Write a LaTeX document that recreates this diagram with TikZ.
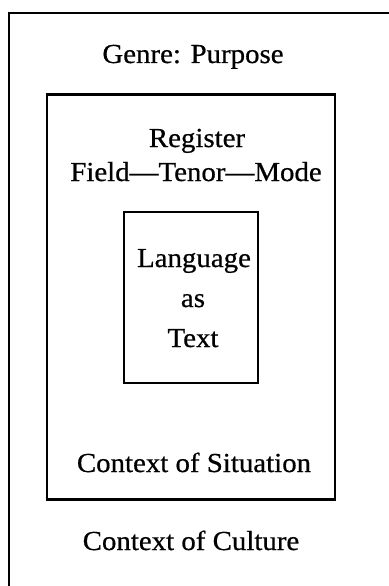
\documentclass[tikz,border=0pt]{standalone}
\usepackage{fontspec}
\setmainfont[FakeStretch=1.05,FakeBold=0.6]{Liberation Serif}
\begin{document}
\begin{tikzpicture}[x=1pt,y=-1pt,
  frame/.style={draw=black,line width=2.3pt,rectangle,inner sep=0pt},
  label/.style={anchor=base,inner sep=0pt,font=\fontsize{27.5}{33}\selectfont}]
\useasboundingbox (0,0) rectangle (388,586);
% outer frame: context of culture (runs off the right and bottom edges)
\draw[line width=2.3pt] (9,600) -- (9,13) -- (400,13);
% middle frame: context of situation
\node[frame,minimum width=288pt,minimum height=405pt] (situation) at (191,297) {};
% inner frame: language as text
\node[frame,minimum width=134pt,minimum height=171pt] (textbox) at (191,297.5) {};
% labels
\node[label] (genre) at (193,63) {Genre: Purpose};
\node[label] (register) at (197,147) {Register};
\node[label] (ftm) at (196,181) {Field---Tenor---Mode};
\node[label] (lang) at (194,267) {Language};
\node[label] (as) at (193,307) {as};
\node[label] (txt) at (193,347) {Text};
\node[label] (sit) at (194,472) {Context of Situation};
\node[label] (cult) at (191,550) {Context of Culture};
\end{tikzpicture}
\end{document}
